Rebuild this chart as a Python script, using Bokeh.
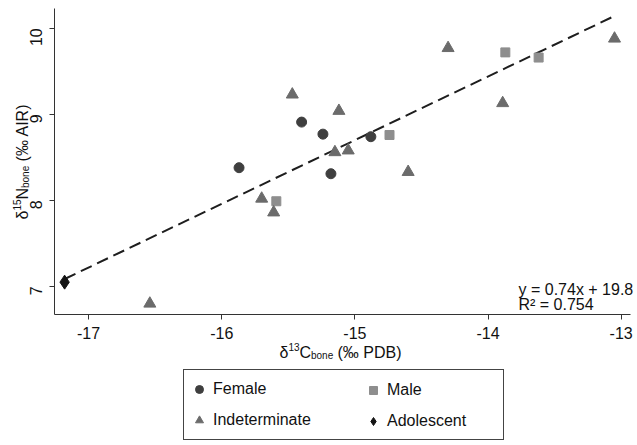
import math
from bokeh.plotting import figure
from bokeh.layouts import column
from bokeh.models import Label, Legend, LegendItem, Range1d, FixedTicker
from bokeh.embed import file_html
from bokeh.resources import INLINE

# ---- data ----
female_x = [-15.87, -15.40, -15.24, -15.18, -14.88]
female_y = [8.38, 8.91, 8.77, 8.31, 8.74]

male_x = [-15.59, -14.74, -13.87, -13.62]
male_y = [7.99, 8.76, 9.72, 9.66]

indet_x = [-15.47, -15.70, -15.61, -16.54, -15.12, -15.15, -15.05, -14.60, -14.30, -13.89, -13.05]
indet_y = [9.23, 8.02, 7.86, 6.80, 9.04, 8.56, 8.58, 8.33, 9.77, 9.13, 9.88]

adol_x = [-17.18]
adol_y = [7.05]

groups = ["Female", "Male", "Indeterminate", "Adolescent"]

fit_slope = 0.74
fit_intercept = 19.8
fit_r2 = 0.754

x_ticks = [-17, -16, -15, -14, -13]
y_ticks = [7, 8, 9, 10]

FONT = "Liberation Sans"
AX = "#333333"
TXT = "#111111"

STY = {
    "Female": dict(marker="circle", size=10, fill_color="#3f3f3f", line_color="#3f3f3f"),
    "Male": dict(marker="square", size=9, fill_color="#8e8e8e", line_color="#8e8e8e"),
    "Indeterminate": dict(marker="triangle", size=12, fill_color="#6b6b6b", line_color="#6b6b6b"),
    "Adolescent": dict(marker="diamond", size=14, fill_color="#141414", line_color="#141414"),
}

W, H = 637, 445

# ---------------- main plot ----------------
p = figure(width=W, height=H, output_backend="svg", toolbar_location=None,
           x_range=Range1d(-17.256, -12.93), y_range=Range1d(6.674, 10.23),
           min_border_left=54, min_border_right=7, min_border_top=8, min_border_bottom=131)
p.outline_line_color = None
p.background_fill_color = "white"
p.border_fill_color = "white"
p.xgrid.visible = False
p.ygrid.visible = False

for ax in (p.xaxis[0], p.yaxis[0]):
    ax.axis_line_color = AX
    ax.major_tick_line_color = AX
    ax.minor_tick_line_color = None
    ax.major_tick_out = 5
    ax.major_tick_in = 0
    ax.major_label_text_font = FONT
    ax.major_label_text_font_size = "16px"
    ax.major_label_text_color = TXT
    ax.axis_label = None
p.xaxis[0].ticker = FixedTicker(ticks=x_ticks)
p.yaxis[0].ticker = FixedTicker(ticks=y_ticks)
p.xaxis[0].major_label_overrides = {t: str(t) for t in x_ticks}
p.yaxis[0].major_label_overrides = {t: str(t) for t in y_ticks}
p.xaxis[0].major_label_standoff = 7
p.yaxis[0].major_label_standoff = 13
p.yaxis[0].major_label_orientation = math.pi / 2

all_x = female_x + male_x + indet_x + adol_x
x0, x1 = min(all_x), max(all_x)
p.line([x0, x1], [fit_slope * x0 + fit_intercept, fit_slope * x1 + fit_intercept],
       line_color="#1e1e1e", line_width=2, line_dash="12 6")

for g, xs, ys in zip(groups, [female_x, male_x, indet_x, adol_x], [female_y, male_y, indet_y, adol_y]):
    p.scatter(xs, ys, **STY[g])

# ---------------- transparent overlay for titles, equation and legend ----------------
ov = figure(width=W, height=H, output_backend="svg", toolbar_location=None,
            x_range=Range1d(0, W), y_range=Range1d(0, H),
            min_border=0, x_axis_type=None, y_axis_type=None)
ov.outline_line_color = None
ov.xgrid.visible = False
ov.ygrid.visible = False
ov.background_fill_alpha = 0
ov.border_fill_alpha = 0
ov.margin = (-H, 0, 0, 0)

XOFF = 54
if "frame_align" in ov.properties():
    p.frame_align = False
    ov.frame_align = False
    XOFF = 0


def lab(cx, cy, t, size, angle=0.0):
    # canvas px (from top-left) -> overlay screen units (from bottom-left)
    ov.add_layout(Label(x=cx - XOFF, y=H - cy, x_units="screen", y_units="screen", text=t,
                        text_font=FONT, text_font_size=size, text_color=TXT,
                        text_align="left", text_baseline="alphabetic", angle=angle))


# x title: δ13Cbone (‰ PDB)
lab(279, 352, "δ", "16px")
lab(288, 346, "13", "10px")
lab(299, 352, "C", "16px")
lab(310.5, 355, "bone", "10px")
lab(337, 352, "(‰ PDB)", "16px")

# y title: δ15Nbone (‰ AIR)
A = math.pi / 2
lab(22, 219, "δ", "16px", A)
lab(16, 210, "15", "10px", A)
lab(22, 199, "N", "16px", A)
lab(25, 187.5, "bone", "10px", A)
lab(22, 160.9, "(‰ AIR)", "16px", A)

# regression equation
lab(518, 289, f"y = {fit_slope:.2f}x + {fit_intercept:.1f}", "16px")
lab(518, 304, f"R² = {fit_r2:.3f}", "16px")

# legend (two columns laid out as two legends sharing one frame)
nan = float("nan")
rend = {g: ov.scatter([nan], [nan], **STY[g]) for g in groups}


def make_legend(names, left, bordered, lw):
    lg = Legend(items=[LegendItem(label=n, renderers=[rend[n]]) for n in names],
                location=(left - XOFF, H - 440), orientation="vertical")
    lg.label_text_font = FONT
    lg.label_text_font_size = "16px"
    lg.label_text_color = TXT
    lg.border_line_color = "#444444"
    lg.border_line_width = 1
    lg.border_line_alpha = 1.0 if bordered else 0.0
    lg.background_fill_color = "white"
    lg.background_fill_alpha = 1.0 if bordered else 0.0
    lg.padding = 5
    lg.margin = 0
    lg.spacing = 3
    lg.glyph_width = 20
    lg.glyph_height = 28
    lg.label_height = 28
    lg.label_standoff = 4
    lg.label_width = lw
    ov.add_layout(lg, "center")


make_legend(["Female", "Indeterminate"], 183, True, 285)
make_legend(["Male", "Adolescent"], 358, False, 100)

layout = column(p, ov)
open("out.html", "w").write(file_html(layout, INLINE))
